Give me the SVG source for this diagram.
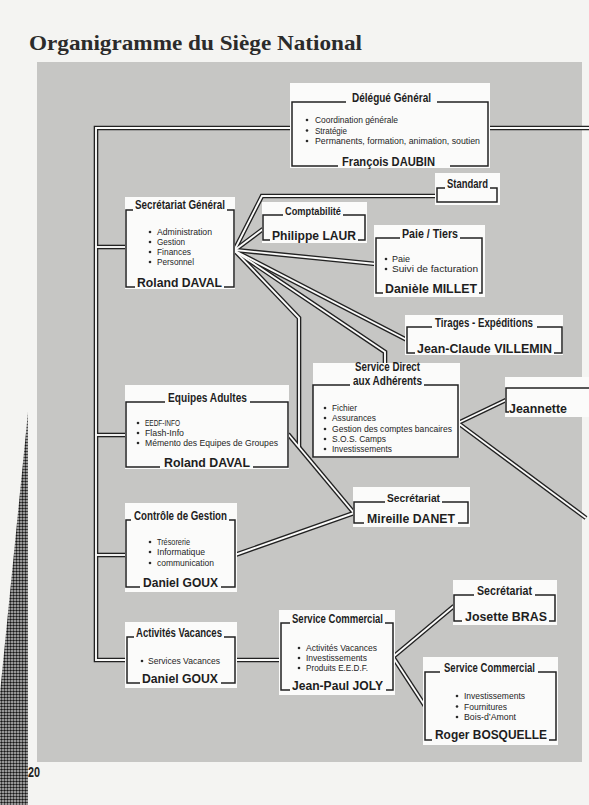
<svg xmlns="http://www.w3.org/2000/svg" width="589" height="805" viewBox="0 0 589 805">
<style>
.page{fill:#f4f4f2}
.panel{fill:#c6c6c4}
.bg{fill:#fbfbfa}
.fr{fill:none;stroke:#222;stroke-width:1.5}
.wo{fill:none;stroke:#222;stroke-width:4.6;stroke-linejoin:miter}
.wi{fill:none;stroke:#fbfbfa;stroke-width:1.9;stroke-linejoin:miter}
text{font-family:"Liberation Sans",Arial,sans-serif;fill:#1e1e1e}
.t{font-size:12px;font-weight:bold}
.n{font-size:13.5px;font-weight:bold}
.b{font-size:9.5px}
.dot{fill:#2a2a2a}
.h1{font-family:"Liberation Serif","Times New Roman",serif;font-size:21.5px;font-weight:bold;fill:#2b2b2b}
</style>
<defs>
<pattern id="ht" width="3" height="3" patternUnits="userSpaceOnUse">
<rect width="3" height="3" fill="#c8c8c8"/>
<circle cx="1.5" cy="1.5" r="1.25" fill="#161616"/>
</pattern>
<g id="wires">
<path d="M292,128 H96 V660 H127"/>
<path d="M96,247 H126"/>
<path d="M96,435 H126"/>
<path d="M96,555 H126"/>
<path d="M488,128 H589"/>
<path d="M235,249 L262,196 H437"/>
<path d="M235,250 L263,229"/>
<path d="M235,250 L376,264"/>
<path d="M235,251 L407,340"/>
<path d="M235,251 L385,352 V363"/>
<path d="M235,251 L299,318 V447"/>
<path d="M288,434 L354,513"/>
<path d="M235,555 L354,513"/>
<path d="M458,423 L506,400"/>
<path d="M458,423 L586,518"/>
<path d="M235,660 H281"/>
<path d="M393,657 L454,606"/>
<path d="M393,657 L425,706"/>
</g>
</defs>
<rect class="page" x="0" y="0" width="589" height="805"/>
<rect class="panel" x="37" y="62" width="545" height="700"/>
<polygon points="28,412 28,805 0,805 0,693" fill="url(#ht)"/>
<text class="h1" x="29" y="50" textLength="333" lengthAdjust="spacingAndGlyphs">Organigramme du Siège National</text>
<text x="28" y="777" style="font-size:15px;font-weight:bold" textLength="12" lengthAdjust="spacingAndGlyphs">20</text>

<g id="connectors">
<use href="#wires" class="wo"/>
<use href="#wires" class="wi"/>
</g>

<g id="n-delegue">
<rect class="bg" x="290" y="83" width="200" height="85"/>
<path class="fr" d="M346,102 H292 V166 H338 M450,166 H488 V102 H437"/>
<text class="t" x="352" y="102" textLength="79" lengthAdjust="spacingAndGlyphs">Délégué Général</text>
<circle class="dot" cx="307" cy="120" r="1.3"/>
<circle class="dot" cx="307" cy="130.5" r="1.3"/>
<circle class="dot" cx="307" cy="141" r="1.3"/>
<text class="b" x="315" y="123" textLength="83" lengthAdjust="spacingAndGlyphs">Coordination générale</text>
<text class="b" x="315" y="133.5" textLength="32" lengthAdjust="spacingAndGlyphs">Stratégie</text>
<text class="b" x="315" y="144" textLength="165" lengthAdjust="spacingAndGlyphs">Permanents, formation, animation, soutien</text>
<text class="n" x="342" y="166" textLength="93" lengthAdjust="spacingAndGlyphs">François DAUBIN</text>
</g>

<g id="n-secgen">
<rect class="bg" x="125" y="197" width="110" height="92"/>
<path class="fr" d="M133,210 H126 V287 H135 M224,287 H234 V210 H227"/>
<text class="t" x="135" y="209" textLength="90" lengthAdjust="spacingAndGlyphs">Secrétariat Général</text>
<circle class="dot" cx="150" cy="232" r="1.3"/>
<circle class="dot" cx="150" cy="242" r="1.3"/>
<circle class="dot" cx="150" cy="252" r="1.3"/>
<circle class="dot" cx="150" cy="262" r="1.3"/>
<text class="b" x="157" y="235" textLength="55" lengthAdjust="spacingAndGlyphs">Administration</text>
<text class="b" x="157" y="245" textLength="28" lengthAdjust="spacingAndGlyphs">Gestion</text>
<text class="b" x="157" y="255" textLength="34" lengthAdjust="spacingAndGlyphs">Finances</text>
<text class="b" x="157" y="265" textLength="37" lengthAdjust="spacingAndGlyphs">Personnel</text>
<text class="n" x="137" y="287" textLength="85" lengthAdjust="spacingAndGlyphs">Roland DAVAL</text>
</g>

<g id="n-standard">
<rect class="bg" x="435" y="173" width="65" height="32"/>
<path class="fr" d="M445,188 H437 V202 H497 V188 H490"/>
<text class="t" x="447" y="188" textLength="41" lengthAdjust="spacingAndGlyphs">Standard</text>
</g>

<g id="n-compta">
<rect class="bg" x="262" y="202" width="105" height="41"/>
<path class="fr" d="M283,215 H263 V240 H270 M358,240 H365 V215 H343"/>
<text class="t" x="285" y="215" style="font-size:11px" textLength="56" lengthAdjust="spacingAndGlyphs">Comptabilité</text>
<text class="n" x="272" y="240" textLength="84" lengthAdjust="spacingAndGlyphs">Philippe LAUR</text>
</g>

<g id="n-paie">
<rect class="bg" x="374" y="225" width="111" height="72"/>
<path class="fr" d="M400,238 H376 V293 H383 M479,293 H482 V238 H460"/>
<text class="t" x="402" y="238" textLength="56" lengthAdjust="spacingAndGlyphs">Paie / Tiers</text>
<circle class="dot" cx="386" cy="259" r="1.3"/>
<circle class="dot" cx="386" cy="269" r="1.3"/>
<text class="b" x="392" y="262" textLength="18" lengthAdjust="spacingAndGlyphs">Paie</text>
<text class="b" x="392" y="272" textLength="86" lengthAdjust="spacingAndGlyphs">Suivi de facturation</text>
<text class="n" x="385" y="293" textLength="92" lengthAdjust="spacingAndGlyphs">Danièle MILLET</text>
</g>

<g id="n-tirages">
<rect class="bg" x="405" y="315" width="158" height="40"/>
<path class="fr" d="M432,327 H407 V353 H415 M554,353 H562 V327 H537"/>
<text class="t" x="435" y="327" textLength="98" lengthAdjust="spacingAndGlyphs">Tirages - Expéditions</text>
<text class="n" x="417" y="353" textLength="135" lengthAdjust="spacingAndGlyphs">Jean-Claude VILLEMIN</text>
</g>

<g id="n-servdirect">
<rect class="bg" x="313" y="363" width="147" height="95"/>
<path class="fr" d="M350,385 H313 V457 H458 V385 H424"/>
<text class="t" x="355" y="371" textLength="65" lengthAdjust="spacingAndGlyphs">Service Direct</text>
<text class="t" x="353" y="385" textLength="69" lengthAdjust="spacingAndGlyphs">aux Adhérents</text>
<circle class="dot" cx="325" cy="408" r="1.3"/>
<circle class="dot" cx="325" cy="418" r="1.3"/>
<circle class="dot" cx="325" cy="429" r="1.3"/>
<circle class="dot" cx="325" cy="439" r="1.3"/>
<circle class="dot" cx="325" cy="449" r="1.3"/>
<text class="b" x="332" y="411" textLength="25" lengthAdjust="spacingAndGlyphs">Fichier</text>
<text class="b" x="332" y="421" textLength="44" lengthAdjust="spacingAndGlyphs">Assurances</text>
<text class="b" x="332" y="432" textLength="120" lengthAdjust="spacingAndGlyphs">Gestion des comptes bancaires</text>
<text class="b" x="332" y="442" textLength="54" lengthAdjust="spacingAndGlyphs">S.O.S. Camps</text>
<text class="b" x="332" y="452" textLength="60" lengthAdjust="spacingAndGlyphs">Investissements</text>
</g>

<g id="n-jeannette">
<rect class="bg" x="505" y="377" width="84" height="40"/>
<path class="fr" d="M589,388 H506 V412 H509"/>
<text class="n" x="509" y="413" textLength="58" lengthAdjust="spacingAndGlyphs">Jeannette</text>
</g>

<g id="n-equipes">
<rect class="bg" x="125" y="385" width="164" height="84"/>
<path class="fr" d="M165,402 H126 V467 H160 M253,467 H288 V402 H250"/>
<text class="t" x="168" y="402" textLength="79" lengthAdjust="spacingAndGlyphs">Equipes Adultes</text>
<circle class="dot" cx="138" cy="423" r="1.3"/>
<circle class="dot" cx="138" cy="433" r="1.3"/>
<circle class="dot" cx="138" cy="443" r="1.3"/>
<text class="b" x="145" y="426" textLength="35" lengthAdjust="spacingAndGlyphs">EEDF-INFO</text>
<text class="b" x="145" y="436" textLength="39" lengthAdjust="spacingAndGlyphs">Flash-Info</text>
<text class="b" x="145" y="446" textLength="133" lengthAdjust="spacingAndGlyphs">Mémento des Equipes de Groupes</text>
<text class="n" x="164" y="467" textLength="86" lengthAdjust="spacingAndGlyphs">Roland DAVAL</text>
</g>

<g id="n-controle">
<rect class="bg" x="125" y="503" width="112" height="89"/>
<path class="fr" d="M131,520 H126 V587 H140 M221,587 H235 V520 H229"/>
<text class="t" x="134" y="520" textLength="93" lengthAdjust="spacingAndGlyphs">Contrôle de Gestion</text>
<circle class="dot" cx="150" cy="542" r="1.3"/>
<circle class="dot" cx="150" cy="552" r="1.3"/>
<circle class="dot" cx="150" cy="563" r="1.3"/>
<text class="b" x="157" y="545" textLength="33" lengthAdjust="spacingAndGlyphs">Trésorerie</text>
<text class="b" x="157" y="555" textLength="48" lengthAdjust="spacingAndGlyphs">Informatique</text>
<text class="b" x="157" y="566" textLength="57" lengthAdjust="spacingAndGlyphs">communication</text>
<text class="n" x="143" y="587" textLength="75" lengthAdjust="spacingAndGlyphs">Daniel GOUX</text>
</g>

<g id="n-mireille">
<rect class="bg" x="353" y="487" width="117" height="40"/>
<path class="fr" d="M385,502 H354 V523 H364 M458,523 H468 V502 H442"/>
<text class="t" x="387" y="502" style="font-size:11px" textLength="53" lengthAdjust="spacingAndGlyphs">Secrétariat</text>
<text class="n" x="367" y="523" textLength="88" lengthAdjust="spacingAndGlyphs">Mireille DANET</text>
</g>

<g id="n-activites">
<rect class="bg" x="125" y="622" width="112" height="66"/>
<path class="fr" d="M134,637 H127 V683 H140 M221,683 H235 V637 H224"/>
<text class="t" x="136" y="637" textLength="86" lengthAdjust="spacingAndGlyphs">Activités Vacances</text>
<circle class="dot" cx="142" cy="661" r="1.3"/>
<text class="b" x="148" y="664" textLength="72" lengthAdjust="spacingAndGlyphs">Services Vacances</text>
<text class="n" x="142" y="683" textLength="76" lengthAdjust="spacingAndGlyphs">Daniel GOUX</text>
</g>

<g id="n-commercial1">
<rect class="bg" x="279" y="610" width="116" height="85"/>
<path class="fr" d="M290,623 H281 V690 H290 M386,690 H393 V623 H385"/>
<text class="t" x="292" y="623" textLength="91" lengthAdjust="spacingAndGlyphs">Service Commercial</text>
<circle class="dot" cx="299" cy="648" r="1.3"/>
<circle class="dot" cx="299" cy="658" r="1.3"/>
<circle class="dot" cx="299" cy="668" r="1.3"/>
<text class="b" x="306" y="651" textLength="71" lengthAdjust="spacingAndGlyphs">Activités Vacances</text>
<text class="b" x="306" y="661" textLength="61" lengthAdjust="spacingAndGlyphs">Investissements</text>
<text class="b" x="306" y="671" textLength="62" lengthAdjust="spacingAndGlyphs">Produits E.E.D.F.</text>
<text class="n" x="292" y="690" textLength="91" lengthAdjust="spacingAndGlyphs">Jean-Paul JOLY</text>
</g>

<g id="n-josette">
<rect class="bg" x="453" y="580" width="104" height="45"/>
<path class="fr" d="M474,595 H454 V621 H462 M549,621 H555 V595 H535"/>
<text class="t" x="477" y="595" textLength="55" lengthAdjust="spacingAndGlyphs">Secrétariat</text>
<text class="n" x="465" y="621" textLength="82" lengthAdjust="spacingAndGlyphs">Josette BRAS</text>
</g>

<g id="n-commercial2">
<rect class="bg" x="423" y="657" width="135" height="88"/>
<path class="fr" d="M440,672 H425 V740 H432 M549,740 H556 V672 H538"/>
<text class="t" x="444" y="672" textLength="91" lengthAdjust="spacingAndGlyphs">Service Commercial</text>
<circle class="dot" cx="457" cy="696" r="1.3"/>
<circle class="dot" cx="457" cy="706.5" r="1.3"/>
<circle class="dot" cx="457" cy="717" r="1.3"/>
<text class="b" x="464" y="699" style="font-size:9px" textLength="61" lengthAdjust="spacingAndGlyphs">Investissements</text>
<text class="b" x="464" y="709.5" style="font-size:9px" textLength="43" lengthAdjust="spacingAndGlyphs">Fournitures</text>
<text class="b" x="464" y="720" style="font-size:9px" textLength="52" lengthAdjust="spacingAndGlyphs">Bois-d’Amont</text>
<text class="n" x="435" y="739" textLength="112" lengthAdjust="spacingAndGlyphs">Roger BOSQUELLE</text>
</g>
</svg>
